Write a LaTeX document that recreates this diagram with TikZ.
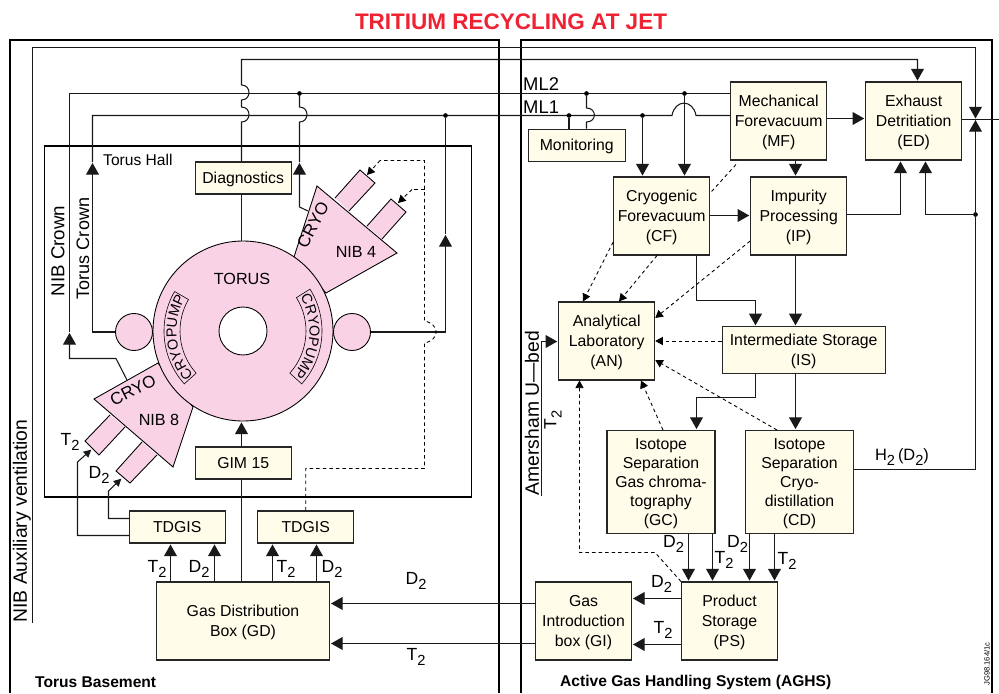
\documentclass[tikz,border=0pt]{standalone}
\usepackage{fontspec}
\setmainfont{Liberation Sans}
\usetikzlibrary{arrows.meta,decorations.text}
\definecolor{fbox}{HTML}{FFFCE9}
\definecolor{fpink}{HTML}{F9D3E5}
\definecolor{ftitle}{HTML}{EE2233}
\newcommand{\lowtwo}{\raisebox{-0.55ex}{\fontsize{12.5}{12.5}\selectfont 2}}
\tikzset{
  base/.style={draw=black!85, fill=fbox, line width=0.9pt, inner sep=0pt, align=center, text depth=0pt,
    font=\fontsize{13.5}{17}\selectfont},
  procbox/.style={base, minimum width=2.88cm, minimum height=2.34cm},
  tagbox/.style={base, minimum width=2.87cm, minimum height=0.96cm},
  isobox/.style={base, minimum width=3.24cm, minimum height=3.1cm, font=\fontsize{13.5}{16.2}\selectfont},
  line/.style={line width=0.9pt, black!90},
  flow/.style={line, -{Triangle[length=10pt,width=11pt]}, shorten >=0.8pt},
  dashline/.style={line width=0.75pt, black, dash pattern=on 3pt off 2.6pt},
  dashflow/.style={dashline, -{Triangle[length=6.5pt,width=7pt]}},
  pinkpart/.style={draw=black, line width=0.75pt, fill=fpink},
  lbl/.style={inner sep=0pt, font=\fontsize{15}{15}\selectfont},
  txt/.style={inner sep=0pt, font=\fontsize{13.3}{15}\selectfont},
  bold/.style={inner sep=0pt, anchor=west, font=\fontsize{13.3}{15}\selectfont\bfseries},
  dot/.style={circle, fill=black, minimum size=4pt, inner sep=0pt},
}
\begin{document}
\begin{tikzpicture}[x=0.03cm, y=-0.03cm]
\useasboundingbox (0,0) rectangle (999,693);
\node[font=\fontsize{19.2}{20}\selectfont\bfseries, text=ftitle, inner sep=0pt] (title) at (511,21.5) {TRITIUM RECYCLING AT JET};
% building frames
\draw[line width=1.1pt] (10,693) -- (10,40) -- (499,40) -- (499,693);
\draw[line width=1.1pt] (521,693) -- (521,40) -- (992,40) -- (992,693);
\draw[line width=1.2pt] (44.5,146) rectangle (471.5,497);
% NIB beams under the torus
\draw[pinkpart] (335,198) -- (360,170) -- (375,183) -- (349,211);
\draw[pinkpart] (367,226) -- (391,199) -- (406,212) -- (382,239);
\draw[pinkpart] (294,257) -- (317,186) -- (397,253) -- (326,293) -- cycle;
\draw[pinkpart] (110,415) -- (85,441) -- (99,455) -- (125,427);
\draw[pinkpart] (142,442) -- (116,471) -- (130,483) -- (157,455);
\draw[pinkpart] (158,363) -- (94,399) -- (173,467) -- (193,407) -- cycle;
% torus
\node[pinkpart, circle, minimum size=5.4cm, inner sep=0pt] (torus) at (243,331) {};
\node[draw=black, line width=0.75pt, fill=white, circle, minimum size=1.44cm, inner sep=0pt] (hole) at (243,331) {};
\node[pinkpart, circle, minimum size=1.11cm, inner sep=0pt] (leftpump) at (134,332) {};
\node[pinkpart, circle, minimum size=1.11cm, inner sep=0pt] (rightpump) at (352,332) {};
% cryopump strips on the torus
\draw[line width=0.5pt] (243,331) ++(138:63) arc[start angle=138, end angle=210, radius=63] -- ++(210:16)
  arc[start angle=210, end angle=138, radius=79] -- cycle;
\draw[line width=0.5pt] (243,331) ++(-32:63) arc[start angle=-32, end angle=42, radius=63] -- ++(42:16)
  arc[start angle=42, end angle=-32, radius=79] -- cycle;
\path[decorate, decoration={text along path, text={|\fontsize{12.3}{12}\selectfont|CRYOPUMP}, text align=center}]
  (243,331) ++(138:66.5) arc[start angle=138, end angle=210, radius=66.5];
\path[decorate, decoration={text along path, text={|\fontsize{12.3}{12}\selectfont|CRYOPUMP}, text align=center}]
  (243,331) ++(-32:66.5) arc[start angle=-32, end angle=42, radius=66.5];
% plant boxes
\node[tagbox] (diag) at (243.2,178) {Diagnostics};
\node[tagbox] (gim) at (243.2,463) {GIM 15};
\node[tagbox] (tdgisa) at (177.2,527) {TDGIS};
\node[tagbox] (tdgisb) at (305.7,527) {TDGIS};
\node[procbox, minimum width=5.19cm] (GD) at (243,621) {Gas Distribution\\Box (GD)};
\node[tagbox, minimum width=2.9cm] (mon) at (576.7,145.2) {Monitoring};
\node[procbox] (MF) at (778.7,121) {Mechanical\\Forevacuum\\(MF)};
\node[procbox] (ED) at (913.7,121) {Exhaust\\Detritiation\\(ED)};
\node[procbox] (CF) at (661.7,216) {Cryogenic\\Forevacuum\\(CF)};
\node[procbox] (IP) at (798.7,216) {Impurity\\Processing\\(IP)};
\node[procbox] (AN) at (606.7,341) {Analytical\\Laboratory\\(AN)};
\node[base, minimum width=4.9cm, minimum height=1.39cm] (IS) at (803.7,350) {Intermediate Storage\\(IS)};
\node[isobox] (GC) at (661,482.2) {Isotope\\Separation\\Gas chroma-\\tography\\(GC)};
\node[isobox] (CD) at (799.5,482.2) {Isotope\\Separation\\Cryo-\\distillation\\(CD)};
\node[procbox] (PS) at (729.5,621) {Product\\Storage\\(PS)};
\node[procbox] (GI) at (583.5,621) {Gas\\Introduction\\box (GI)};
% ML2 and NIB crown
\draw[line] (127,380) -- (116,358.5) -- (69.5,358.5) -- (69.5,342);
\draw[flow] (69.5,342) -- (69.5,332);
\draw[line] (69.5,332) -- (69.5,93.5) -- (MF.west |- 0,93.5);
% ML1 and torus crown
\draw[line] (leftpump.west) -- (92.5,332) -- (92.5,172);
\draw[flow] (92.5,172) -- (92.5,162);
\draw[line] (92.5,162) -- (92.5,115.5) -- (672,115.5) .. controls (675,99) and (693,99) .. (696,115.5) -- (MF.west |- 0,115.5);
% exhaust line over the top
\draw[line] (diag.south -| 241.5,0) -- (torus.north -| 241.5,0);
\draw[line] (diag.north -| 241.5,0) -- (241.5,122) .. controls (251.5,122) and (251.5,107) .. (241.5,107) -- (241.5,100)
  .. controls (251.5,100) and (251.5,85) .. (241.5,85) -- (241.5,59.5) -- (917.5,59.5) -- (917.5,72);
\draw[flow] (917.5,72) -- (ED.north -| 917.5,0);
\draw[line] (gim.south -| 241.5,0) -- (GD.north -| 241.5,0);
\draw[flow] (gim.north -| 241.5,0) -- (torus.south -| 241.5,0);
% branch to NIB 4 cryo
\node[dot] (junca) at (299.5,93.5) {};
\draw[line] (308,211) -- (299.5,207) -- (299.5,172);
\draw[flow] (299.5,172) -- (299.5,162);
\draw[line] (299.5,162) -- (299.5,122) .. controls (309.5,122) and (309.5,107) .. (299.5,107) -- (junca);
% right pump
\node[dot] (juncb) at (445.5,115.5) {};
\draw[line] (rightpump.east) -- (445.5,332) -- (445.5,244);
\draw[flow] (445.5,244) -- (445.5,234);
\draw[line] (445.5,234) -- (juncb);
% TDGIS feeds from the gas box
\foreach \x/\n in {170.5/a,214.5/a,272.5/b,316.5/b}{
  \draw[flow] (GD.north -| \x,0) -- (tdgis\n.south -| \x,0);}
\draw[flow, -{Triangle[length=6.5pt,width=6.5pt]}] (tdgisa.west |- 0,535.5) -- (77.5,535.5) -- (77.5,462) -- (92,449);
\draw[flow, -{Triangle[length=6.5pt,width=6.5pt]}] (tdgisa.west |- 0,518.5) -- (108.5,518.5) -- (108.5,491) -- (122,478);
% dashed supply to NIB 4
\draw[dashline] (tdgisb.north) -- (305.7,468.5) -- (424.5,468.5) -- (424.5,343) .. controls (440,340) and (440,324) .. (424.5,321) -- (424.5,160.5) -- (380,160.5);
\draw[dashflow] (380,160.5) -- (367,175);
\draw[dashline] (424.5,189.5) -- (412,189.5);
\draw[dashflow] (412,189.5) -- (398,203);
% vacuum lines on the AGHS side
\node[dot] (juncc) at (569,115.5) {};
\node[dot] (juncd) at (586.5,93.5) {};
\node[dot] (junce) at (642.5,115.5) {};
\node[dot] (juncf) at (684.5,93.5) {};
\draw[line] (juncc) -- (mon.north -| 569,0);
\draw[line] (juncd) -- (586.5,108) .. controls (597,108) and (597,122) .. (586.5,122) -- (mon.north -| 586.5,0);
\draw[flow] (junce) -- (CF.north -| 642.5,0);
\draw[flow] (juncf) -- (CF.north -| 684.5,0);
\draw[flow] (MF.east |- 0,118.5) -- (ED.west |- 0,118.5);
\draw[flow] (MF.south -| 795.5,0) -- (IP.north -| 795.5,0);
\draw[flow] (CF.east |- 0,215.5) -- (IP.west |- 0,215.5);
\draw[flow] (IP.east |- 0,214.5) -- (900.5,214.5) -- (ED.south -| 900.5,0);
\draw[flow] (IP.south -| 795.5,0) -- (IS.north -| 795.5,0);
\draw[flow] (CF.south -| 696.5,0) -- (696.5,300.5) -- (755.5,300.5) -- (IS.north -| 755.5,0);
\draw[flow] (IS.south -| 755.5,0) -- (755.5,397.5) -- (696.5,397.5) -- (GC.north -| 696.5,0);
\draw[flow] (IS.south -| 795.5,0) -- (CD.north -| 795.5,0);
\foreach \x/\n in {688.5/GC,712.5/GC,749.5/CD,774.5/CD}{
  \draw[flow] (\n.south -| \x,0) -- (PS.north -| \x,0);}
\draw[flow] (PS.west |- 0,598.5) -- (GI.east |- 0,598.5);
\draw[flow] (PS.west |- 0,644.5) -- (GI.east |- 0,644.5);
\draw[flow] (GI.west |- 0,603.5) -- (GD.east |- 0,603.5);
\draw[flow] (GI.west |- 0,643.5) -- (GD.east |- 0,643.5);
% ventilation and the H2 return
\node[dot] (juncg) at (975.5,214.5) {};
\draw[line] (32.5,623) -- (32.5,47.5) -- (975.5,47.5) -- (975.5,107);
\draw[flow, shorten >=0pt] (975.5,107) -- (975.5,118.5);
\draw[line] (CD.east |- 0,469.5) -- (975.5,469.5) -- (975.5,131);
\draw[flow, shorten >=0pt] (975.5,131) -- (975.5,120);
\draw[line] (ED.east |- 0,119.5) -- (999,119.5);
\draw[flow] (juncg) -- (925.5,214.5) -- (ED.south -| 925.5,0);
% U-bed feed
\draw[line] (541.5,496) -- (541.5,341.5) -- (548,341.5);
\draw[flow] (548,341.5) -- (AN.west |- 0,341.5);
% sampling lines to the lab
\draw[dashline] (MF.south -| 736,0) ++(0,4) -- (CF.east |- 0,193);
\draw[dashflow] (CF.west |- 0,242) -- (AN.north -| 583,0);
\draw[dashflow] (CF.south -| 657,0) -- (AN.north -| 619,0);
\draw[dashflow] (IP.west |- 0,241) -- (AN.east |- 0,318);
\draw[dashflow] (IS.west |- 0,341) -- (AN.east |- 0,341);
\draw[dashflow] (CD.north -| 777,0) -- (AN.east |- 0,360);
\draw[dashflow] (GC.north -| 663,0) -- (AN.south -| 641,0);
\draw[dashflow] (PS.north west) -- (655,552.5) -- (579.5,552.5) -- (AN.south -| 579.5,0);
% texts
\node[txt, anchor=west] (hall) at (103,160) {Torus Hall};
\node[inner sep=0pt, font=\fontsize{13.8}{15}\selectfont] (toruslbl) at (242,279) {TORUS};
\node[inner sep=0pt, font=\fontsize{13.8}{15}\selectfont] (nibd) at (356,252) {NIB 4};
\node[inner sep=0pt, font=\fontsize{13.8}{15}\selectfont] (nibh) at (159,420) {NIB 8};
\node[inner sep=0pt, font=\fontsize{14.5}{15}\selectfont, rotate=62] (cryod) at (313,225) {CRYO};
\node[inner sep=0pt, font=\fontsize{14.5}{15}\selectfont, rotate=27] (cryoh) at (133,390) {CRYO};
\node[lbl, font=\fontsize{16}{16}\selectfont, rotate=90] (nibcrown) at (58,251) {NIB Crown};
\node[lbl, font=\fontsize{15.4}{16}\selectfont, rotate=90] (toruscrown) at (83,248.5) {Torus Crown};
\node[lbl, font=\fontsize{16.5}{17}\selectfont, rotate=90] (aux) at (22,521) {NIB Auxiliary ventilation};
\node[lbl, font=\fontsize{16.5}{17}\selectfont, rotate=90] (amersham) at (532,413) {Amersham U—bed};
\node[lbl, font=\fontsize{15.7}{16}\selectfont, anchor=west] (mlb) at (523,84) {ML2};
\node[lbl, font=\fontsize{15.7}{16}\selectfont, anchor=west] (mla) at (523,107) {ML1};
\foreach \nm/\px/\py/\sp in {ta/70/442/T,da/99/475/D,tb/157/569/T,db/199/569/D,tc/286/569/T,dc/332/569/D,
  dd/416/581/D,td/416/657/T,de/673.5/544/D,te/724/560/T,df/737.5/544/D,tf/787/561/T,dg/661.5/584/D,tg/663/630/T}{
  \node[lbl] (lbl\nm) at (\px,\py) {\sp\lowtwo};}
\node[lbl, rotate=90] (lblth) at (553,420) {T\lowtwo};
\node[lbl, font=\fontsize{14}{14}\selectfont] (lblhyd) at (902,457) {H\lowtwo\hspace{2.5pt}(D\lowtwo)};
\node[bold] (basement) at (35,682) {Torus Basement};
\node[bold] (aghs) at (560,682) {Active Gas Handling System (AGHS)};
\node[inner sep=0pt, font=\fontsize{6.5}{7}\selectfont, rotate=90] (jgref) at (987,664) {JG98.164/1c};
\end{tikzpicture}
\end{document}
